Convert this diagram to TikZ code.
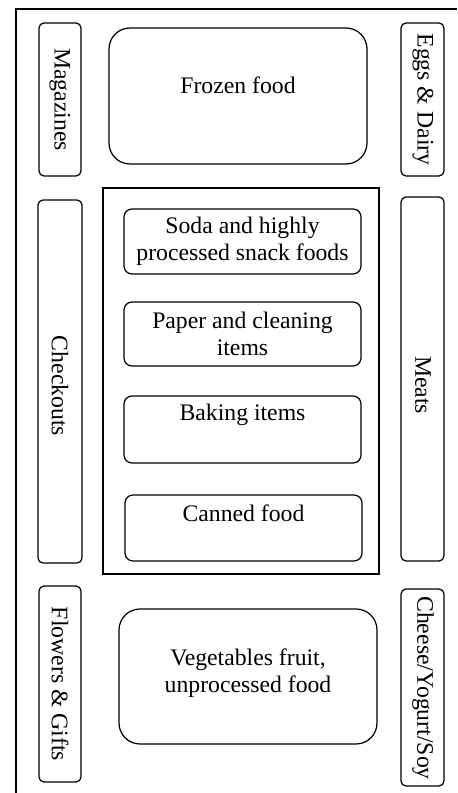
\documentclass[tikz,border=0pt]{standalone}
\usepackage{fontspec}
\setmainfont{Liberation Serif}

\begin{document}
\begin{tikzpicture}[auto,
    txt/.style={inner sep=0pt, align=center, font=\fontsize{13.5}{15.5}\selectfont},
    side/.style={line width=0.7pt, rounded corners=0.1cm},
    shelf/.style={line width=0.7pt, rounded corners=0.16cm},
    bigzone/.style={line width=0.7pt, rounded corners=0.42cm}]
    \useasboundingbox (0,0) rectangle (9.14,15.86);
    % store outline
    \draw[line width=1pt] (9.14,15.68) -- (0.32,15.68) -- (0.32,0);
    % top row
    \draw[side] (0.78,15.40) rectangle (1.62,12.34); \node[txt, rotate=-90] (magazines) at (1.20,13.87) {Magazines};
    \draw[bigzone] (2.18,15.30) rectangle (7.34,12.58); \node[txt] (frozen) at (4.76,14.16) {Frozen food};
    \draw[side] (8.02,15.40) rectangle (8.88,12.34); \node[txt, rotate=-90] (eggs) at (8.46,13.87) {Eggs \& Dairy};
    % middle aisles
    \draw[side] (0.76,11.86) rectangle (1.64,4.60); \node[txt, rotate=-90] (checkouts) at (1.20,8.14) {Checkouts};
    \draw[line width=0.7pt] (2.06,12.10) rectangle (7.58,4.38);
    \draw[shelf] (2.48,11.68) rectangle (7.22,10.38); \node[txt] (soda) at (4.85,11.03) {Soda and highly\\processed snack foods};
    \draw[shelf] (2.48,9.82) rectangle (7.22,8.54); \node[txt] (paper) at (4.85,9.18) {Paper and cleaning\\items};
    \draw[shelf] (2.48,7.94) rectangle (7.22,6.60); \node[txt] (baking) at (4.85,7.56) {Baking items};
    \draw[shelf] (2.50,5.96) rectangle (7.24,4.64); \node[txt] (canned) at (4.87,5.60) {Canned food};
    \draw[side] (8.02,11.92) rectangle (8.88,4.64); \node[txt, rotate=-90] (meats) at (8.46,8.16) {Meats};
    % bottom row
    \draw[side] (0.78,4.14) rectangle (1.62,0.22); \node[txt, rotate=-90] (flowers) at (1.20,2.18) {Flowers \& Gifts};
    \draw[bigzone] (2.38,3.68) rectangle (7.54,0.98); \node[txt] (veg) at (4.96,2.40) {Vegetables fruit,\\unprocessed food};
    \draw[side] (8.02,4.08) rectangle (8.88,0.14); \node[txt, rotate=-90] (cheese) at (8.46,2.10) {Cheese/Yogurt/Soy};
\end{tikzpicture}
\end{document}
